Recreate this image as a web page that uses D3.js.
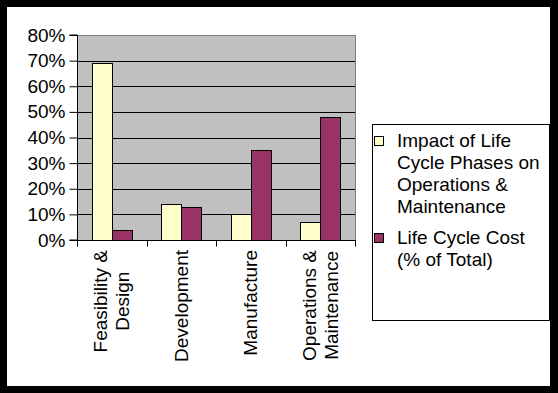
<!DOCTYPE html>
<html><head><meta charset="utf-8">
<script src="https://cdn.jsdelivr.net/npm/d3@7"></script>
<style>
html,body{margin:0;padding:0;background:#000;}
svg{display:block;}
text{font-family:"Liberation Sans",Arial,sans-serif;fill:#000;}
</style></head>
<body>
<svg id="c" width="558" height="393"></svg>
<script>
const categories = [["Feasibility &","Design"],["Development"],["Manufacture"],["Operations &","Maintenance"]];
const categoryKeys = ["Feasibility & Design","Development","Manufacture","Operations & Maintenance"];
const seriesNames = [["Impact of Life","Cycle Phases on","Operations &","Maintenance"],["Life Cycle Cost","(% of Total)"]];
const impactValues = [0.69, 0.14, 0.10, 0.07];
const costValues = [0.04, 0.13, 0.35, 0.48];
const seriesColors = ["#FFFFCC", "#993366"];
const yTicks = [0,0.1,0.2,0.3,0.4,0.5,0.6,0.7,0.8];

const svg = d3.select("#c");
const FS = 19;
// frame
svg.append("rect").attr("x",0).attr("y",0).attr("width",558).attr("height",393).attr("fill","#000");
svg.append("rect").attr("x",7).attr("y",7).attr("width",543).attr("height",379).attr("fill","#fff");

const L=77,R=355,T=35,B=240;
const x0 = d3.scaleBand().domain(categoryKeys).range([L,R]).paddingInner(0).paddingOuter(0);
const bw = x0.bandwidth();
const barW = bw/3.5;
const x1 = d3.scaleBand().domain([0,1]).range([0.75*barW, 2.75*barW]);
const y = d3.scaleLinear().domain([0,0.8]).range([B,T]);

svg.append("rect").attr("x",L).attr("y",T).attr("width",R-L).attr("height",B-T).attr("fill","#C0C0C0").attr("stroke","#808080").attr("stroke-width",1).attr("shape-rendering","crispEdges");

// gridlines
svg.append("g").selectAll("line").data(yTicks.slice(1,-1)).join("line")
  .attr("x1",L).attr("x2",R).attr("y1",d=>Math.round(y(d))+0.5).attr("y2",d=>Math.round(y(d))+0.5)
  .attr("stroke","#000").attr("stroke-width",1);

// bars
const data = categoryKeys.map((c,i)=>({c, vals:[impactValues[i], costValues[i]]}));
const g = svg.append("g");
data.forEach(d=>{
  d.vals.forEach((v,s)=>{
    const xx = x0(d.c)+x1(s);
    g.append("rect").attr("x",Math.round(xx)+0.5).attr("y",Math.round(y(v))+0.5)
      .attr("width",Math.round(x1.bandwidth())).attr("height",Math.round(B-y(v)))
      .attr("fill",seriesColors[s]).attr("stroke","#000").attr("stroke-width",1);
  });
});

// y axis
const yAxis = d3.axisLeft(y).tickValues(yTicks).tickFormat(d3.format(".0%")).tickSize(8).tickPadding(4);
const ya = svg.append("g").attr("transform",`translate(${L+0.5},0)`).call(yAxis);
ya.select(".domain").attr("stroke","#000").attr("d",`M-8,${T}H0V${B}H-8`);
ya.selectAll(".tick line").attr("stroke","#000");
ya.selectAll(".tick text").attr("font-size",FS).attr("font-family","Liberation Sans, Arial, sans-serif").attr("fill","#000");

// x axis
const xa = svg.append("g").attr("transform",`translate(0,${B+0.5})`);
xa.append("line").attr("x1",L).attr("x2",R+1).attr("y1",0).attr("y2",0).attr("stroke","#000");
const bounds = categoryKeys.map(c=>x0(c)).concat([R]);
xa.selectAll("line.tk").data(bounds).join("line").attr("class","tk")
  .attr("x1",d=>Math.round(d)+0.5).attr("x2",d=>Math.round(d)+0.5).attr("y1",0).attr("y2",6).attr("stroke","#000");

// x labels rotated
categories.forEach((lines,i)=>{
  const cx = x0(categoryKeys[i]) + bw/2;
  const lg = svg.append("g");
  const texts = lines.map((ln,j)=>lg.append("text").text(ln).attr("font-size",FS).attr("text-anchor","middle"));
  const maxW = d3.max(texts, t=>t.node().getComputedTextLength());
  const lh = 22;
  const n = lines.length;
  texts.forEach((t,j)=>{
    const off = (j-(n-1)/2)*lh + 6.5;
    t.attr("transform",`translate(${cx+off},${250+maxW/2}) rotate(-90)`);
  });
});

// legend
svg.append("rect").attr("x",372.5).attr("y",124.5).attr("width",177).attr("height",196).attr("fill","#fff").attr("stroke","#000").attr("stroke-width",1);
const legY = [147, 244];
seriesNames.forEach((lines,s)=>{
  svg.append("rect").attr("x",374.5).attr("y",legY[s]-10.5).attr("width",9).attr("height",9)
    .attr("fill",seriesColors[s]).attr("stroke","#000");
  lines.forEach((ln,j)=>{
    svg.append("text").attr("x",397).attr("y",legY[s]+j*22).attr("font-size",FS).text(ln);
  });
});
</script>
</body></html>
